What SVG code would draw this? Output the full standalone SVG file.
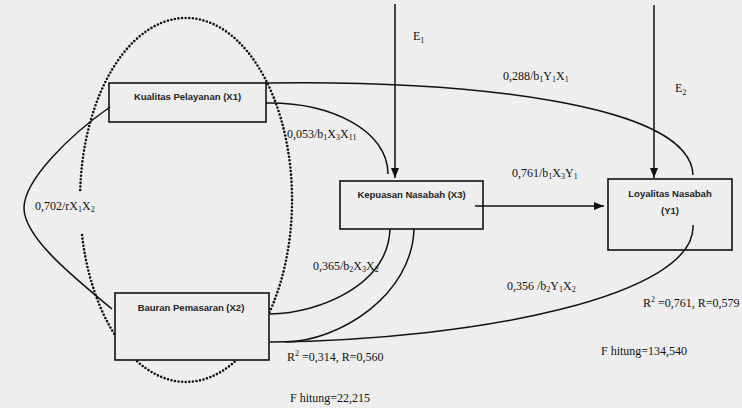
<svg xmlns="http://www.w3.org/2000/svg" width="742" height="408" viewBox="0 0 742 408">
<defs>
<marker id="ah" viewBox="0 0 10 10" refX="10" refY="5" markerWidth="10" markerHeight="10" markerUnits="userSpaceOnUse" orient="auto">
<path d="M0,1 L10,5 L0,9 Z" fill="#111"/>
</marker>
<style>
.bg{fill:#eeeeee}
.box{fill:#eeeeee;stroke:#111;stroke-width:1.6}
.nt{font-family:"Liberation Sans",Arial,sans-serif;font-size:9.5px;font-weight:bold;fill:#222;text-anchor:middle}
.ln{fill:none;stroke:#111;stroke-width:1.5}
.dot{fill:none;stroke:#111;stroke-width:2.6;stroke-linecap:round;stroke-dasharray:0 3.6}
.lb{font-family:"Liberation Serif","Times New Roman",serif;font-size:12px;fill:#111}
.s{font-size:8px}
</style>
</defs>
<rect class="bg" x="0" y="0" width="742" height="408"/>

<g id="ellipse-group">
<path class="dot" d="M80.2,190 A106 182 0 1 1 81.7,232"/>
</g>

<g id="node-x1">
<rect class="box" x="109" y="83" width="157" height="39"/>
<text class="nt" x="187.5" y="100">Kualitas Pelayanan (X1)</text>
</g>
<g id="node-x2">
<rect class="box" x="115" y="293" width="154" height="67"/>
<text class="nt" x="191" y="311">Bauran Pemasaran (X2)</text>
</g>
<g id="node-x3">
<rect class="box" x="340" y="181" width="143" height="48"/>
<text class="nt" x="411.5" y="198">Kepuasan Nasabah (X3)</text>
</g>
<g id="node-y1">
<rect class="box" x="608" y="179" width="124" height="71"/>
<text class="nt" x="670" y="197">Loyalitas Nasabah</text>
<text class="nt" x="670" y="214">(Y1)</text>
</g>

<g id="connectors">
<path class="ln" d="M395,4 L395,178" marker-end="url(#ah)"/>
<path class="ln" d="M654,5 L654,178" marker-end="url(#ah)"/>
<path class="ln" d="M266,83 C460,80 690,102 693,175"/>
<path class="ln" d="M266,103 C330,102 388,130 388,174"/>
<path class="ln" d="M110,107 C70,135 24,180 24,208 C24,238 75,278 112,309"/>
<path class="ln" d="M475,206 L604,206" marker-end="url(#ah)"/>
<path class="ln" d="M390,229 C388,285 320,313 270,314"/>
<path class="ln" d="M414,229 C412,295 340,341 285,342"/>
<path class="ln" d="M693,225 C697,295 480,340 270,342"/>
</g>

<g id="labels">
<text class="lb" x="413" y="40">E<tspan class="s" dy="3">1</tspan></text>
<text class="lb" x="675" y="92">E<tspan class="s" dy="3">2</tspan></text>
<text class="lb" x="503" y="80">0,288/b<tspan class="s" dy="2">1</tspan><tspan dy="-2">Y</tspan><tspan class="s" dy="2">1</tspan><tspan dy="-2">X</tspan><tspan class="s" dy="2">1</tspan></text>
<text class="lb" x="287" y="138">0,053/b<tspan class="s" dy="2">1</tspan><tspan dy="-2">X</tspan><tspan class="s" dy="2">3</tspan><tspan dy="-2">X</tspan><tspan class="s" dy="2">11</tspan></text>
<text class="lb" x="512" y="177">0,761/b<tspan class="s" dy="2">1</tspan><tspan dy="-2">X</tspan><tspan class="s" dy="2">3</tspan><tspan dy="-2">Y</tspan><tspan class="s" dy="2">1</tspan></text>
<text class="lb" x="35" y="210">0,702/rX<tspan class="s" dy="2">1</tspan><tspan dy="-2">X</tspan><tspan class="s" dy="2">2</tspan></text>
<text class="lb" x="313" y="270">0,365/b<tspan class="s" dy="2">2</tspan><tspan dy="-2">X</tspan><tspan class="s" dy="2">3</tspan><tspan dy="-2">X</tspan><tspan class="s" dy="2">2</tspan></text>
<text class="lb" x="507" y="290">0,356 /b<tspan class="s" dy="2">2</tspan><tspan dy="-2">Y</tspan><tspan class="s" dy="2">1</tspan><tspan dy="-2">X</tspan><tspan class="s" dy="2">2</tspan></text>
<text class="lb" x="643" y="307">R<tspan class="s" dy="-5">2</tspan><tspan dy="5"> =0,761, R=0,579</tspan></text>
<text class="lb" x="287" y="361">R<tspan class="s" dy="-5">2</tspan><tspan dy="5"> =0,314,  R=0,560</tspan></text>
<text class="lb" x="601" y="355">F hitung=134,540</text>
<text class="lb" x="290" y="402">F hitung=22,215</text>
</g>
</svg>
